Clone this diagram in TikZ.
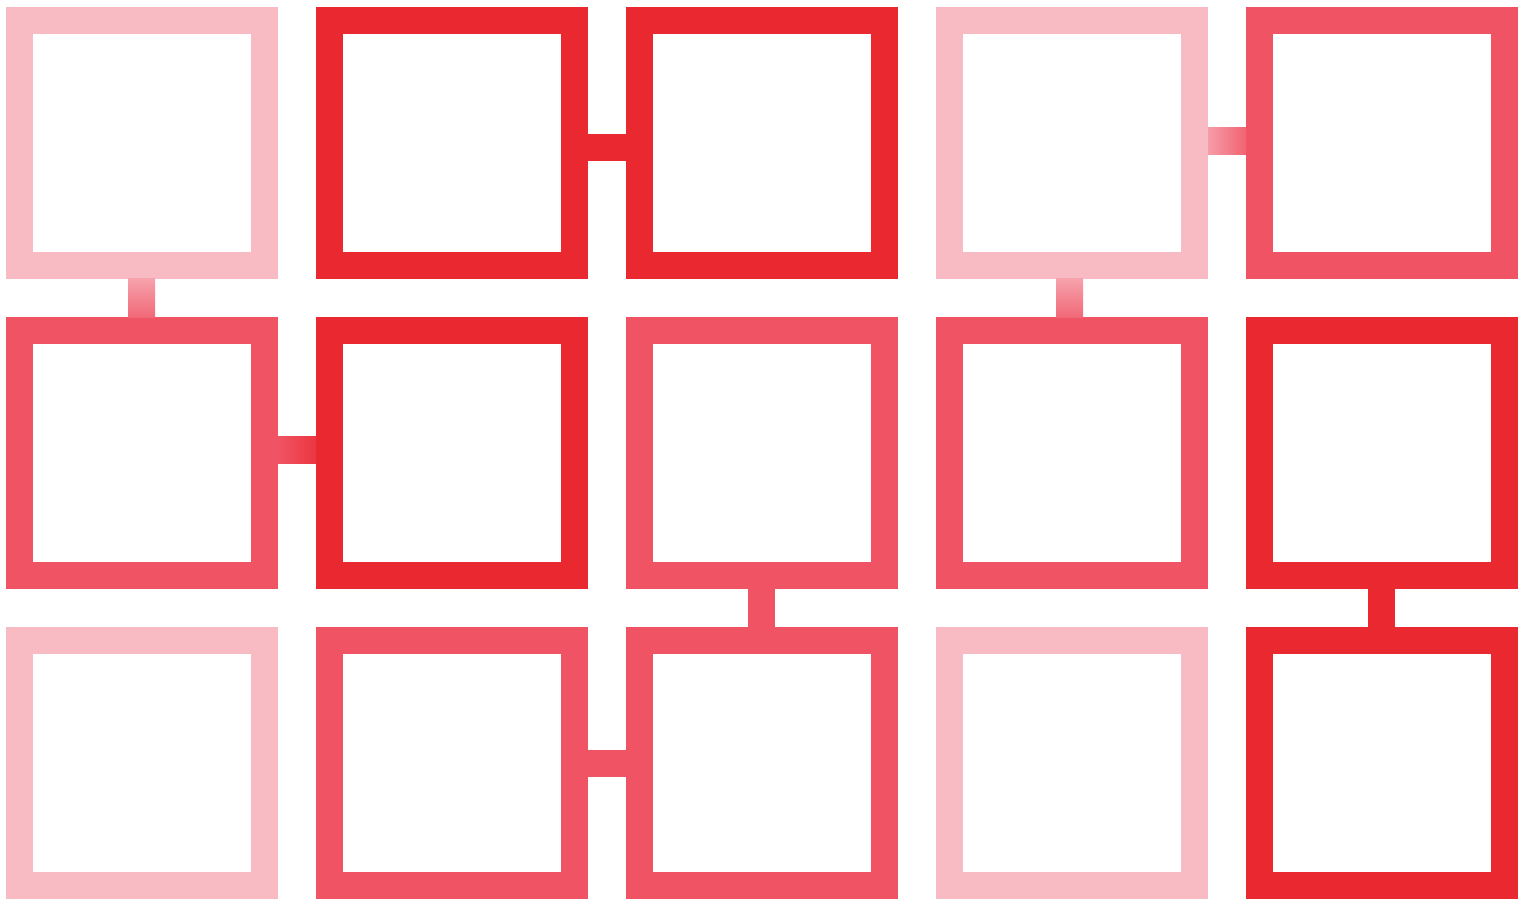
\documentclass[tikz,border=0pt]{standalone}
\usepackage{xcolor}
\usepackage{tikz}
\usetikzlibrary{positioning,calc}
\definecolor{lightpk}{RGB}{248,187,195}
\definecolor{midred}{RGB}{240,84,100}
\definecolor{darkred}{RGB}{233,41,47}
\tikzset{
  cell/.style={rectangle, draw, line width=2.7mm, minimum size=24.5mm,
               inner sep=0pt, fill=white},
  lcell/.style={cell, draw=lightpk},
  mcell/.style={cell, draw=midred},
  dcell/.style={cell, draw=darkred},
  link/.style={line width=2.7mm},
  mlink/.style={link, midred},
  dlink/.style={link, darkred}
}

\begin{document}
\begin{tikzpicture}[node distance=31mm, on grid]
\useasboundingbox (0,0) rectangle (15.28,9.03);
% row 1
\node[lcell] (a1) at (1.42,7.60) {};
\node[dcell, right=of a1] (a2) {};
\node[dcell, right=of a2] (a3) {};
\node[lcell, right=of a3] (a4) {};
\node[mcell, right=of a4] (a5) {};
% row 2
\node[mcell, below=of a1] (b1) {};
\node[dcell, right=of b1] (b2) {};
\node[mcell, right=of b2] (b3) {};
\node[mcell, right=of b3] (b4) {};
\node[dcell, right=of b4] (b5) {};
% row 3
\node[lcell, below=of b1] (c1) {};
\node[mcell, right=of c1] (c2) {};
\node[mcell, right=of c2] (c3) {};
\node[lcell, right=of c3] (c4) {};
\node[dcell, right=of c4] (c5) {};
% plain links
\draw[dlink] ([yshift=-0.45mm]a2.east) -- ([yshift=-0.45mm]a3.west);
\draw[mlink] ([xshift=-0.05mm]b3.south) -- ([xshift=-0.05mm]c3.north);
\draw[dlink] ([xshift=-0.05mm]b5.south) -- ([xshift=-0.05mm]c5.north);
\draw[mlink] ([yshift=-0.05mm]c2.east) -- ([yshift=-0.05mm]c3.west);
% shaded links
\shade[top color=midred!25!lightpk, bottom color=midred!80!lightpk]
  ([xshift=-1.4mm]a1.south) rectangle ([xshift=1.3mm]b1.north);
\shade[top color=midred!25!lightpk, bottom color=midred!80!lightpk]
  ([xshift=-1.6mm]a4.south) rectangle ([xshift=1.1mm]b4.north);
\shade[left color=midred!30!lightpk, right color=midred!85!lightpk]
  ([yshift=1.5mm]a4.east) rectangle ([yshift=-1.2mm]a5.west);
\shade[left color=midred, right color=darkred!70!midred]
  ([yshift=1.7mm]b1.east) rectangle ([yshift=-1.0mm]b2.west);
\end{tikzpicture}
\end{document}
